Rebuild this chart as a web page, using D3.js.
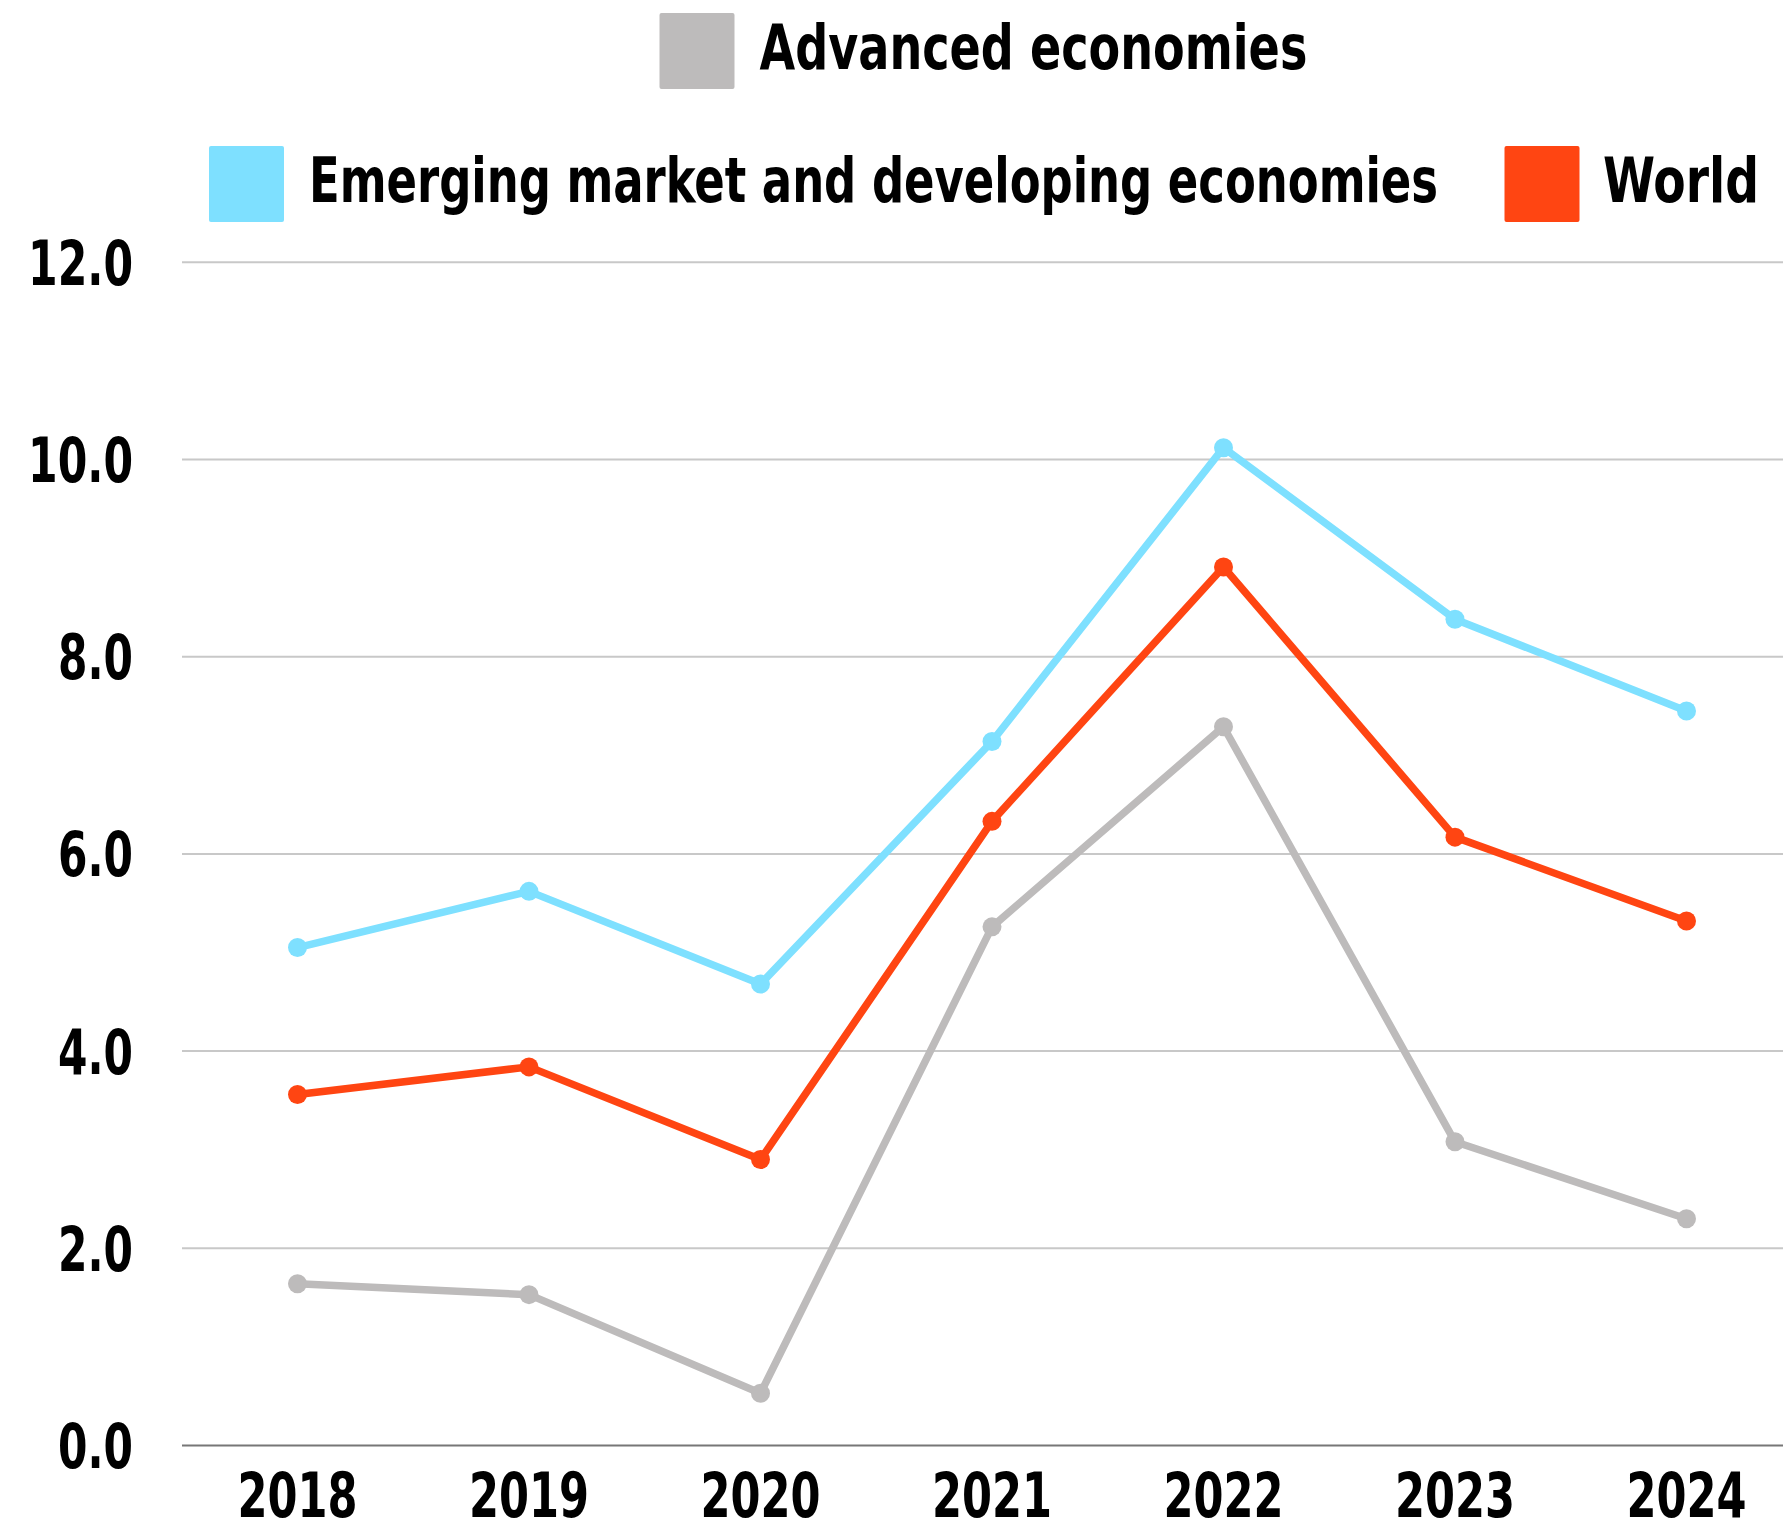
<!DOCTYPE html>
<html>
<head>
<meta charset="utf-8">
<script src="https://cdn.jsdelivr.net/npm/d3@7"></script>
<style>
  html, body { margin: 0; padding: 0; background: #fff; }
  svg { display: block; }
  text { font-family: "Liberation Sans Narrow", "Arial Narrow", "DejaVu Sans Condensed", sans-serif; font-weight: bold; fill: #000; }
</style>
</head>
<body>
<svg id="chart" width="1783" height="1532"></svg>
<script>
const years = ["2018", "2019", "2020", "2021", "2022", "2023", "2024"];
const advanced = [1.64, 1.53, 0.53, 5.26, 7.29, 3.08, 2.30];
const emerging = [5.05, 5.62, 4.68, 7.14, 10.12, 8.38, 7.45];
const world = [3.56, 3.84, 2.90, 6.33, 8.91, 6.17, 5.32];
const yTicks = [0, 2, 4, 6, 8, 10, 12];
const seriesNames = ["Advanced economies", "Emerging market and developing economies", "World"];
const seriesColors = ["#bdbbbb", "#7ee0ff", "#ff4512"];

const series = [
  { name: seriesNames[0], values: advanced, color: seriesColors[0] },
  { name: seriesNames[1], values: emerging, color: seriesColors[1] },
  { name: seriesNames[2], values: world, color: seriesColors[2] }
];

const svg = d3.select("#chart");
const plotLeft = 182, plotRight = 1783;

const x = d3.scalePoint().domain(years).range([297.5, 1686.5]);
const y = d3.scaleLinear().domain([0, 12]).range([1445.5, 262.3]);

// width of a label in this condensed face: ~30px per digit, ~15px per dot
const labelWidth = s => s.replace(/[^0-9]/g, "").length * 30 + (s.includes(".") ? 15 : 0);

// place a text at (px, py) with given anchor and squeeze it horizontally to width w
function fitText(parent, str, px, py, anchor, w) {
  const t = parent.append("text")
    .attr("font-size", 63)
    .attr("text-anchor", anchor)
    .text(str);
  const nat = t.node().getComputedTextLength();
  const sx = w / nat;
  t.attr("transform", `translate(${px},${py}) scale(${sx},1)`);
  return t;
}

// gridlines
svg.append("g").selectAll("line")
  .data(yTicks.filter(d => d !== 0))
  .join("line")
  .attr("x1", plotLeft).attr("x2", plotRight)
  .attr("y1", d => y(d)).attr("y2", d => y(d))
  .attr("stroke", "#c8c8c8").attr("stroke-width", 2);

// zero line
svg.append("line")
  .attr("x1", plotLeft).attr("x2", plotRight)
  .attr("y1", y(0)).attr("y2", y(0))
  .attr("stroke", "#777").attr("stroke-width", 2);

// y tick labels
const gy = svg.append("g");
yTicks.forEach(d => {
  const s = d3.format(".1f")(d);
  fitText(gy, s, 133, y(d) + 22.5, "end", labelWidth(s));
});

// x tick labels
const gx = svg.append("g");
years.forEach(d => {
  fitText(gx, d, x(d), 1517, "middle", labelWidth(d));
});

// lines
const line = d3.line()
  .x((d, i) => x(years[i]))
  .y(d => y(d));

const gSeries = svg.append("g").selectAll("g")
  .data(series)
  .join("g");

gSeries.append("path")
  .attr("d", d => line(d.values))
  .attr("fill", "none")
  .attr("stroke", d => d.color)
  .attr("stroke-width", 7.5)
  .attr("stroke-linejoin", "round");

gSeries.each(function(s) {
  d3.select(this).selectAll("circle")
    .data(s.values)
    .join("circle")
    .attr("cx", (d, i) => x(years[i]))
    .attr("cy", d => y(d))
    .attr("r", 9.5)
    .attr("fill", s.color);
});

// legend
const legendItems = [
  { idx: 0, sx: 659.5, sy: 13, tx: 759.5, tw: 548 },
  { idx: 1, sx: 209, sy: 146, tx: 309, tw: 1129.5 },
  { idx: 2, sx: 1504.5, sy: 146, tx: 1603, tw: 156 }
];
const lg = svg.append("g");
legendItems.forEach(it => {
  lg.append("rect")
    .attr("x", it.sx).attr("y", it.sy)
    .attr("width", 75).attr("height", 76)
    .attr("rx", 2)
    .attr("fill", seriesColors[it.idx]);
  fitText(lg, seriesNames[it.idx], it.tx, it.sy + 55.5, "start", it.tw);
});
</script>
</body>
</html>
